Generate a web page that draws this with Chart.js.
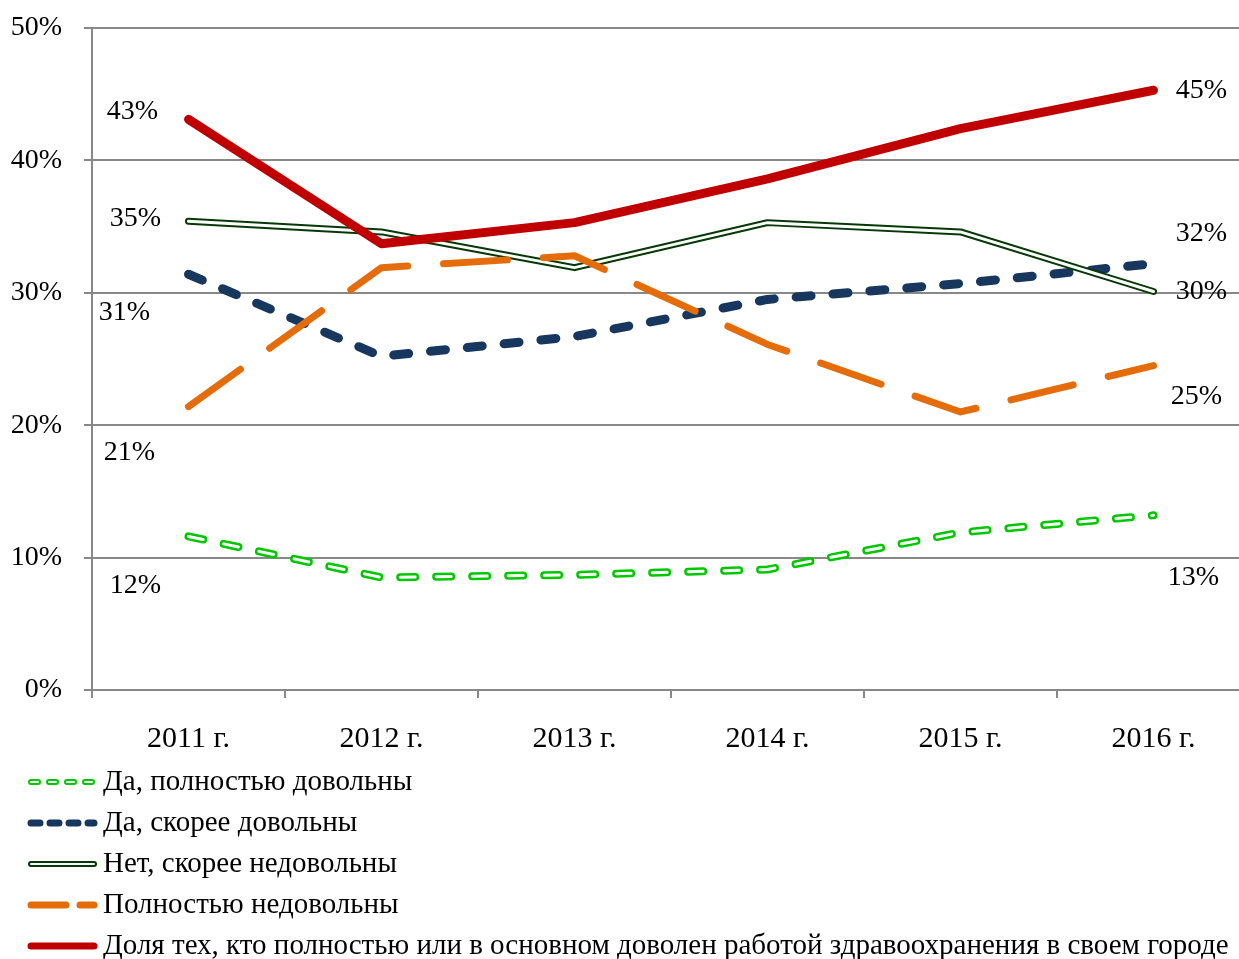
<!DOCTYPE html>
<html>
<head>
<meta charset="utf-8">
<script src="https://cdn.jsdelivr.net/npm/chart.js@4.4.1/dist/chart.umd.min.js"></script>
<style>
  html, body { margin: 0; padding: 0; background: #fff; overflow: hidden; }
  #wrap { width: 1255px; height: 959px; }
</style>
</head>
<body>
<div id="wrap"><canvas id="chart" width="1255" height="959"></canvas></div>
<script>
// данные
const years = ["2011 г.", "2012 г.", "2013 г.", "2014 г.", "2015 г.", "2016 г."];
const fullySatisfied = [11.6, 8.5, 8.7, 9.1, 11.9, 13.2];
const ratherSatisfied = [31.4, 25.2, 26.7, 29.5, 30.7, 32.2];
const ratherDissatisfied = [35.4, 34.6, 31.9, 35.3, 34.6, 30.1];
const fullyDissatisfied = [21.4, 31.9, 32.8, 26.1, 21.0, 24.5];
const satisfiedShare = [43.1, 33.7, 35.3, 38.6, 42.4, 45.3];
const seriesNames = [
  "Да, полностью довольны",
  "Да, скорее довольны",
  "Нет, скорее недовольны",
  "Полностью недовольны",
  "Доля тех, кто полностью или в основном доволен работой здравоохранения в своем городе",
];

const FONT = "'Liberation Serif', 'DejaVu Serif', serif";
const GRID = "#888888";

// смещения подписей первой и последней точки (стиль)
const labelOffsets = {
  0: [[-53, 49], [40, 62]],
  2: [[-64, 38], [48, -30]],
  3: [[-53, -3], [48, 0]],
  5: [[-59, 46], [43, 31]],
  6: [[-56, -8], [48, 0]],
};

// подписи значений
const endLabels = {
  id: "endLabels",
  afterDatasetsDraw(chart) {
    const ctx = chart.ctx;
    ctx.save();
    ctx.font = "28px " + FONT;
    ctx.fillStyle = "#000";
    ctx.textAlign = "center";
    ctx.textBaseline = "middle";
    Object.keys(labelOffsets).forEach((i) => {
      const meta = chart.getDatasetMeta(+i);
      const data = chart.data.datasets[i].data;
      const ends = [0, data.length - 1];
      ends.forEach((k, j) => {
        const pt = meta.data[k];
        const off = labelOffsets[i][j];
        ctx.fillText(Math.round(data[k]) + "%", pt.x + off[0], pt.y + off[1]);
      });
    });
    ctx.restore();
  },
};

// легенда списком
const listLegend = {
  id: "listLegend",
  afterDraw(chart) {
    const ctx = chart.ctx;
    const groups = [[0, 1], [2], [3, 4], [5], [6]];
    ctx.save();
    groups.forEach((g, n) => {
      const y = 782 + n * 41;
      g.forEach((di) => {
        const ds = chart.data.datasets[di];
        ctx.beginPath();
        ctx.strokeStyle = ds.borderColor;
        ctx.lineWidth = ds.legendWidth || ds.borderWidth;
        ctx.lineCap = ds.borderCapStyle || "butt";
        ctx.setLineDash((ds.legendDash || ds.borderDash || []));
        ctx.moveTo(31, y);
        ctx.lineTo(94, y);
        ctx.stroke();
      });
      ctx.setLineDash([]);
      ctx.font = "29px " + FONT;
      ctx.fillStyle = "#000";
      ctx.textAlign = "left";
      ctx.textBaseline = "middle";
      ctx.fillText(seriesNames[n], 103, y);
    });
    ctx.restore();
  },
};

new Chart(document.getElementById("chart"), {
  type: "line",
  data: {
    labels: years,
    datasets: [
      { label: seriesNames[0], data: fullySatisfied, borderColor: "#00c800", borderWidth: 8, legendWidth: 6,
        borderDash: [15, 21], legendDash: [7, 11], borderCapStyle: "round", order: 10 },
      { label: "", data: fullySatisfied, borderColor: "#ffffff", borderWidth: 3, legendWidth: 2,
        borderDash: [15, 21], legendDash: [7, 11], borderCapStyle: "round", order: 9 },
      { label: seriesNames[1], data: ratherSatisfied, borderColor: "#17375e", borderWidth: 9, legendWidth: 7,
        borderDash: [15, 22], legendDash: [9, 10], borderCapStyle: "round", order: 8 },
      { label: seriesNames[2], data: ratherDissatisfied, borderColor: "#073807", borderWidth: 7, legendWidth: 6,
        borderCapStyle: "round", order: 7 },
      { label: "", data: ratherDissatisfied, borderColor: "#ffffff", borderWidth: 3, legendWidth: 2,
        borderCapStyle: "round", order: 6 },
      { label: seriesNames[3], data: fullyDissatisfied, borderColor: "#e46c0a", borderWidth: 7,
        borderDash: [64, 36], legendDash: [35, 14], borderCapStyle: "round", order: 5 },
      { label: seriesNames[4], data: satisfiedShare, borderColor: "#c00000", borderWidth: 9, legendWidth: 7,
        borderCapStyle: "round", order: 4 },
    ],
  },
  options: {
    responsive: false,
    animation: false,
    elements: {
      point: { radius: 0, hoverRadius: 0 },
      line: { tension: 0, borderJoinStyle: "round" },
    },
    layout: { padding: { top: 28, right: 5, bottom: 199, left: 0 } },
    plugins: { legend: { display: false }, tooltip: { enabled: false } },
    scales: {
      x: {
        offset: true,
        grid: { offset: true, drawOnChartArea: false, drawTicks: true, tickLength: 8, color: GRID, lineWidth: 2 },
        border: { color: GRID, width: 2 },
        ticks: { color: "#000", font: { family: FONT, size: 30 }, padding: 23, maxRotation: 0 },
        afterFit(scale) { scale.height = 70; },
      },
      y: {
        min: 0,
        max: 50,
        grid: { color: GRID, lineWidth: 2, tickLength: 8 },
        border: { color: GRID, width: 2 },
        ticks: { stepSize: 10, color: "#000", font: { family: FONT, size: 28 }, padding: 22,
          callback: (v) => v + "%" },
        afterFit(scale) {
          scale.width = 92;
          // отступ подписей не должен сдвигать область графика
          scale.paddingTop = 10;
          scale.paddingBottom = 10;
        },
      },
    },
  },
  plugins: [endLabels, listLegend],
});
</script>
</body>
</html>
